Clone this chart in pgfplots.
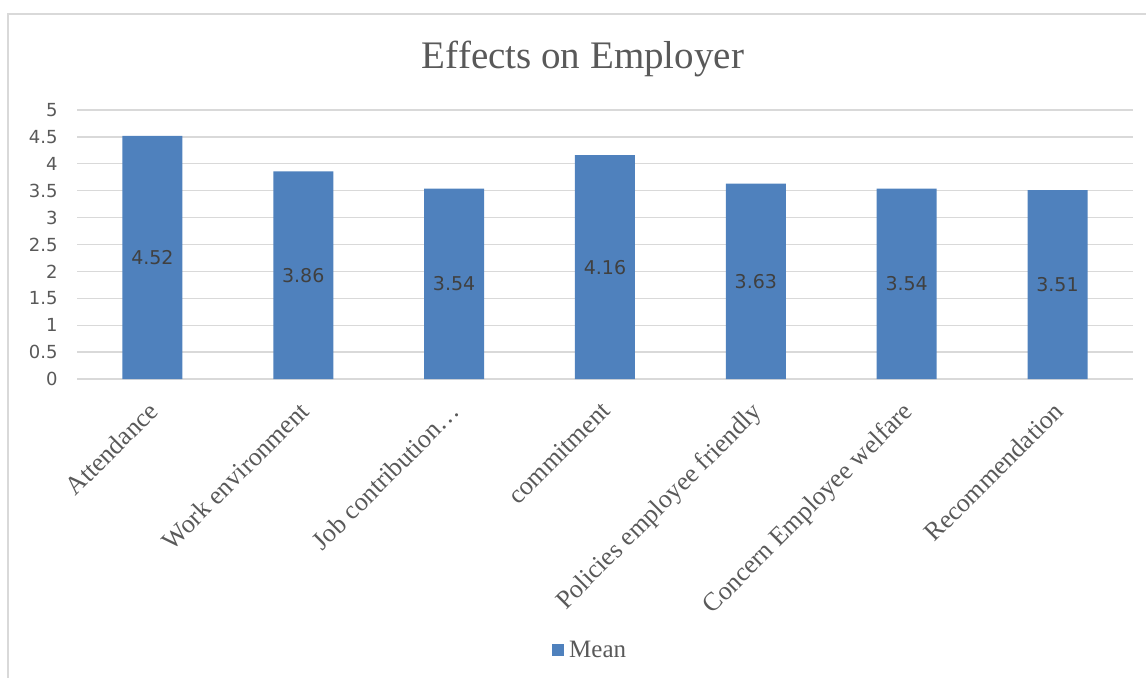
\documentclass[border=0pt]{standalone}
\usepackage{pgfplots}
\pgfplotsset{compat=1.18}
\usepackage{pgfplotstable}
\usepackage{fontspec}
\setmainfont{Liberation Serif}
\newfontfamily\numfont{DejaVu Sans}
\definecolor{barblue}{RGB}{79,129,189}
\definecolor{gridgray}{RGB}{217,217,217}
\definecolor{txtgray}{RGB}{89,89,89}
\definecolor{lblgray}{RGB}{64,64,64}

\pgfplotstableread{
x y
0 4.52
1 3.86
2 3.54
3 4.16
4 3.63
5 3.54
6 3.51
}\datatable

\begin{document}
\begin{tikzpicture}
\path[use as bounding box] (0,0) rectangle (1146bp,678bp);
\draw[gridgray, line width=1.5bp] (8bp,-20bp) -- (8bp,664bp) -- (1170bp,664bp);
\node[anchor=base, text=txtgray, font=\fontsize{39bp}{44bp}\selectfont, inner sep=0pt] at (583bp,609bp) {Effects on Employer};
\begin{axis}[
  at={(77bp,299bp)}, anchor=south west,
  width=1056bp, height=269bp, scale only axis,
  xmin=-0.5, xmax=6.5, ymin=0, ymax=5,
  ytick={0,0.5,1,1.5,2,2.5,3,3.5,4,4.5,5},
  xtick={0,1,2,3,4,5,6},
  xticklabels={Attendance, Work environment, Job contribution…, commitment, Policies employee friendly, Concern Employee welfare, Recommendation},
  axis line style={draw=none},
  major tick length=0pt,
  ymajorgrids, grid style={gridgray, line width=1.3bp},
  /pgf/number format/assume math mode=true,
  yticklabel style={font=\numfont\fontsize{18bp}{20bp}\selectfont, text=txtgray, anchor=east, xshift=-16bp},
  xticklabel style={font=\fontsize{26bp}{30bp}\selectfont, text=txtgray, rotate=45, anchor=north east, inner sep=0pt, xshift=-19bp, yshift=-11bp},
  legend style={at={(0.486,-1.0074)}, anchor=center, draw=none, fill=none, font=\fontsize{25bp}{28bp}\selectfont, text=txtgray},
  legend image code/.code={\fill[barblue] (0bp,-6bp) rectangle (12bp,6bp); \path (15bp,0bp);},
  clip=false,
]
\addplot[ybar, bar width=60bp, fill=barblue, draw=none] table[x=x, y=y] {\datatable};
\addlegendentry{Mean}
\addplot[draw=none, mark=none, forget plot, nodes near coords, point meta=explicit,
  nodes near coords style={anchor=center, font=\numfont\fontsize{19bp}{22bp}\selectfont, text=lblgray}]
  table[x=x, y expr=\thisrow{y}/2, meta=y] {\datatable};
\end{axis}
\end{tikzpicture}
\end{document}
